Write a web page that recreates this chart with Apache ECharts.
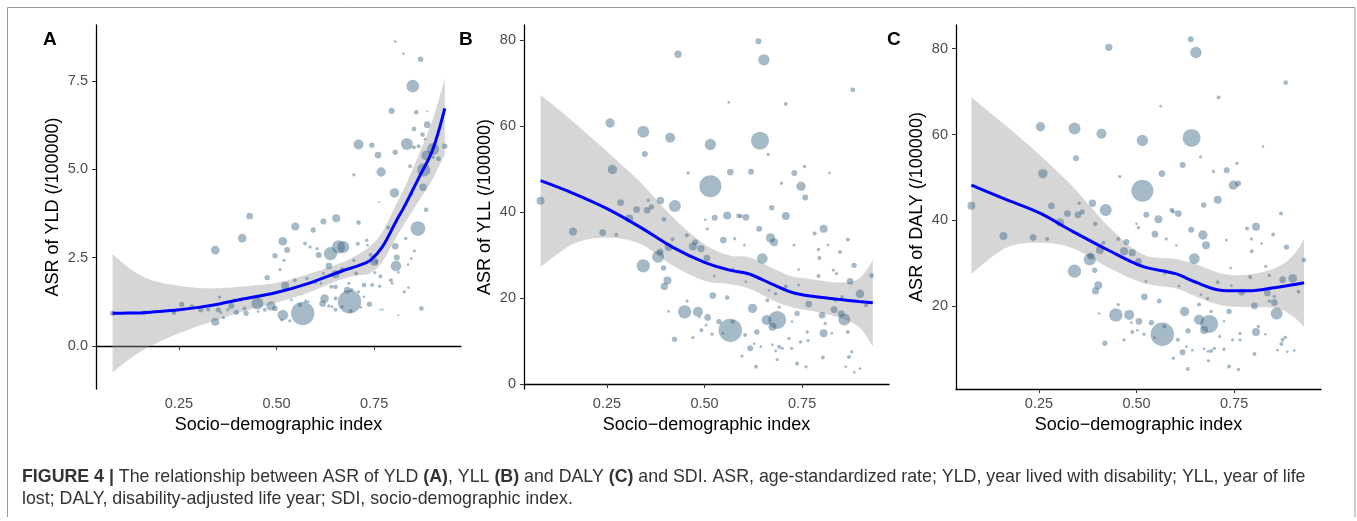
<!DOCTYPE html>
<html><head><meta charset="utf-8">
<script src="https://cdn.jsdelivr.net/npm/echarts@6/dist/echarts.min.js"></script>
<style>html,body{margin:0;padding:0;background:#fff}#c{width:1357px;height:521px}</style>
</head><body><div id="c"></div>
<script>
// ---------- DATA ----------
// each point: [socio-demographic index, age-standardized rate, relative population weight]
const pointsYLD = [
[0.080,0.92,8],[0.161,0.94,7],[0.237,0.94,7],[0.257,1.17,8],[0.283,1.11,7],[0.306,1.02,8],[0.325,1.03,6],[0.343,2.71,13],[0.343,0.68,12],[0.354,1.38,5],
[0.364,0.80,5],[0.351,1.02,8],[0.384,1.13,9],[0.397,0.95,8],[0.412,3.05,13],[0.422,0.92,8],[0.431,3.67,10],[0.451,1.20,18],[0.476,1.93,8],[0.486,1.13,14],
[0.496,2.55,8],[0.516,2.96,13],[0.527,2.71,9],[0.516,0.87,16],[0.522,1.70,12],[0.509,2.16,5],[0.519,2.42,5],[0.548,3.38,12],[0.567,0.92,35],[0.573,2.90,6],
[0.594,3.28,8],[0.608,2.57,9],[0.620,3.52,9],[0.623,1.34,13],[0.618,1.20,10],[0.634,2.26,10],[0.638,2.61,20],[0.653,3.61,12],[0.659,2.80,20],[0.671,2.80,18],
[0.651,2.03,12],[0.687,1.25,35],[0.681,1.58,10],[0.698,4.84,5],[0.710,5.70,15],[0.710,3.49,7],[0.708,2.89,6],[0.731,2.99,5],[0.724,1.72,7],[0.738,1.18,8],
[0.744,5.68,8],[0.750,2.38,12],[0.760,5.40,10],[0.768,4.92,14],[0.763,4.07,3],[0.766,1.97,6],[0.764,1.69,5],[0.786,3.35,6],[0.795,6.65,9],[0.802,4.33,14],
[0.804,5.48,8],[0.804,8.61,4],[0.806,2.26,16],[0.804,2.82,10],[0.808,2.50,9],[0.825,8.27,4],[0.834,5.71,18],[0.849,7.35,19],[0.852,6.14,7],[0.858,6.61,7],
[0.862,3.32,22],[0.869,8.11,8],[0.871,1.06,7],[0.874,5.98,7],[0.875,4.49,11],[0.877,4.98,20],[0.883,3.85,7],[0.886,6.26,10],[0.884,5.39,15],[0.901,5.57,18],
[0.915,5.29,7],[0.931,5.65,8],[0.842,5.08,6],[0.852,5.62,6],[0.831,3.04,5],[0.853,2.69,5],[0.845,2.47,4],[0.837,2.30,4],[0.812,0.87,3],[0.827,1.53,5],
[0.838,1.65,4],[0.793,1.86,6],[0.796,1.77,4],[0.812,2.08,4],[0.766,1.02,3],[0.772,1.03,3],[0.745,1.72,6],[0.752,2.07,5],[0.704,2.05,6],[0.710,1.53,5],
[0.724,1.39,4],[0.698,2.42,5],[0.668,2.16,7],[0.651,1.67,7],[0.640,1.67,6],[0.651,1.34,6],[0.668,1.11,5],[0.690,0.99,6],[0.716,1.09,4],[0.634,1.13,5],
[0.642,1.11,4],[0.575,1.27,5],[0.582,1.25,4],[0.560,1.16,6],[0.538,1.30,4],[0.547,1.86,6],[0.578,1.91,5],[0.599,1.81,6],[0.586,2.80,5],[0.604,2.75,5],
[0.496,1.06,8],[0.470,1.02,6],[0.453,0.97,4],[0.453,1.39,5],[0.418,1.06,6],[0.408,1.30,5],[0.392,1.30,5],[0.375,1.02,5],[0.358,0.94,4],[0.534,0.71,5],
[0.513,0.73,4],[0.741,2.57,6],[0.741,2.42,5],[0.733,2.85,4],[0.756,2.38,6],[0.651,1.02,6],[0.685,1.77,5],[0.692,1.58,6],[0.614,1.77,4],[0.620,2.05,4],
[0.901,5.34,5],[0.880,5.85,4],[0.886,6.64,3],[0.864,5.65,6],[0.845,4.29,6],[0.862,4.70,5]
];
const pointsYLL = [
[0.080,42.6,12],[0.163,35.5,12],[0.239,35.2,10],[0.274,34.7,6],[0.258,60.7,14],[0.264,49.9,14],[0.285,42.2,10],[0.307,38.5,12],[0.326,40.6,10],[0.343,58.7,18],
[0.347,53.5,9],[0.343,27.5,20],[0.353,40.4,10],[0.356,42.7,5],[0.364,41.2,8],[0.381,29.6,18],[0.387,42.7,11],[0.386,30.7,10],[0.395,27.0,8],[0.396,38.3,7],
[0.397,22.7,11],[0.405,24.1,12],[0.408,31.9,12],[0.408,16.9,4],[0.412,57.3,15],[0.424,41.4,18],[0.418,33.7,6],[0.423,10.4,8],[0.432,76.7,11],[0.449,16.8,20],
[0.455,19.3,5],[0.458,49.1,5],[0.455,34.6,6],[0.470,32.0,12],[0.476,33.0,9],[0.483,16.8,15],[0.491,31.5,11],[0.492,12.5,6],[0.470,10.8,5],[0.506,29.3,10],
[0.508,15.5,10],[0.502,38.2,4],[0.507,36.1,5],[0.515,55.7,17],[0.515,46.0,33],[0.526,38.7,9],[0.521,20.6,10],[0.519,11.6,5],[0.525,25.1,4],[0.537,14.5,8],
[0.548,33.5,10],[0.558,39.2,12],[0.558,20.1,7],[0.562,65.5,4],[0.566,49.3,10],[0.566,12.5,35],[0.577,33.8,5],[0.587,39.1,7],[0.593,39.1,6],[0.606,38.8,10],
[0.602,32.3,4],[0.604,11.4,6],[0.596,6.5,5],[0.619,49.4,9],[0.623,17.6,14],[0.617,8.3,9],[0.632,4.0,6],[0.634,12.1,8],[0.638,79.7,9],[0.642,56.6,27],
[0.640,36.1,9],[0.648,29.2,16],[0.652,75.4,17],[0.663,53.4,5],[0.659,14.9,15],[0.669,34.0,14],[0.672,41.0,8],[0.678,33.0,12],[0.686,14.9,27],[0.674,13.3,12],
[0.697,46.7,5],[0.708,39.1,12],[0.708,65.1,6],[0.708,22.7,6],[0.691,8.7,6],[0.686,5.7,5],[0.723,8.3,5],[0.730,49.1,9],[0.729,32.3,4],[0.737,16.4,8],
[0.737,4.8,6],[0.747,46.0,14],[0.756,50.6,5],[0.758,43.4,9],[0.746,9.8,5],[0.760,4.0,5],[0.767,18.6,10],[0.741,26.6,4],[0.741,23.0,4],[0.765,10.1,5],
[0.782,35.0,6],[0.792,31.3,5],[0.794,29.3,6],[0.801,16.0,10],[0.805,11.8,12],[0.805,36.1,12],[0.803,6.2,6],[0.792,25.1,6],[0.809,14.1,5],[0.816,32.3,4],
[0.820,49.1,4],[0.830,26.5,5],[0.832,17.3,10],[0.838,25.7,5],[0.847,30.7,6],[0.850,16.4,10],[0.858,15.0,18],[0.867,33.6,6],[0.867,12.1,6],[0.870,6.3,6],
[0.873,23.9,10],[0.877,7.5,5],[0.880,68.4,7],[0.883,27.6,8],[0.862,4.0,4],[0.884,2.7,4],[0.898,21.0,13],[0.914,18.3,6],[0.928,25.2,7],[0.898,3.6,4],
[0.836,19.5,5],[0.852,20.3,5],[0.826,11.8,4],[0.716,10.6,5],[0.699,8.3,5],[0.682,7.7,4],[0.763,12.1,5],[0.724,14.5,4],[0.674,9.1,4],[0.644,8.7,4],
[0.627,9.4,4],[0.572,14.5,6],[0.547,11.8,4],[0.504,13.7,4],[0.487,15.6,4],[0.572,26.8,4],[0.606,23.8,4],[0.661,19.5,6],[0.665,21.8,4],[0.682,21.0,5],
[0.691,17.9,5]
];
const pointsDALY = [
[0.077,43.4,12],[0.159,36.4,12],[0.235,36.0,10],[0.271,35.7,6],[0.254,61.8,14],[0.260,50.9,14],[0.282,43.4,10],[0.304,39.5,12],[0.323,41.6,10],[0.341,61.4,18],
[0.345,54.5,9],[0.341,28.2,20],[0.350,41.3,10],[0.353,44.0,5],[0.361,42.0,8],[0.380,30.9,18],[0.387,44.0,11],[0.382,31.7,10],[0.393,28.4,8],[0.394,39.2,7],
[0.395,23.6,11],[0.402,24.9,12],[0.406,33.1,12],[0.404,18.3,4],[0.410,60.2,15],[0.421,42.4,18],[0.415,34.8,6],[0.419,11.4,8],[0.429,80.3,11],[0.447,18.0,20],
[0.453,20.4,5],[0.457,50.2,5],[0.453,35.7,6],[0.468,32.8,12],[0.474,35.0,9],[0.481,18.0,15],[0.489,32.5,11],[0.489,14.0,6],[0.468,12.2,5],[0.505,30.5,10],
[0.506,16.5,10],[0.500,39.2,4],[0.505,38.3,5],[0.515,58.6,17],[0.515,46.9,33],[0.525,41.3,9],[0.520,22.2,10],[0.519,13.5,5],[0.524,25.8,4],[0.538,16.2,8],
[0.547,36.8,10],[0.556,40.3,12],[0.558,21.2,7],[0.562,66.6,4],[0.565,50.9,10],[0.566,13.5,35],[0.576,35.7,5],[0.590,42.4,7],[0.594,42.0,6],[0.607,41.6,10],
[0.602,34.2,4],[0.606,12.2,6],[0.594,7.9,5],[0.618,52.9,9],[0.623,18.8,14],[0.618,9.3,9],[0.631,5.4,6],[0.632,14.3,8],[0.639,82.2,9],[0.641,59.2,27],
[0.640,37.8,9],[0.648,31.1,16],[0.652,79.1,17],[0.664,54.8,5],[0.660,16.9,15],[0.670,36.6,14],[0.672,43.6,8],[0.678,34.2,12],[0.686,15.9,27],[0.673,14.5,12],
[0.697,51.4,5],[0.708,44.8,12],[0.710,68.6,6],[0.708,25.6,6],[0.691,9.6,6],[0.684,7.3,5],[0.724,10.0,5],[0.731,51.7,9],[0.730,35.4,4],[0.737,18.8,8],
[0.737,6.0,6],[0.748,48.2,14],[0.757,53.3,5],[0.760,48.6,9],[0.746,12.2,5],[0.761,5.3,5],[0.769,23.3,10],[0.741,28.9,4],[0.743,24.8,4],[0.765,12.2,5],
[0.783,38.1,6],[0.794,35.7,5],[0.795,32.8,6],[0.802,20.1,10],[0.806,14.0,12],[0.806,38.5,12],[0.802,8.9,6],[0.791,26.8,6],[0.812,15.3,5],[0.820,34.6,4],
[0.824,57.2,4],[0.831,29.3,5],[0.835,23.1,10],[0.840,27.2,5],[0.850,36.7,6],[0.853,20.9,10],[0.859,18.3,18],[0.870,41.6,6],[0.871,11.2,6],[0.874,12.2,6],
[0.874,26.2,10],[0.881,12.8,5],[0.882,72.1,7],[0.884,33.8,8],[0.861,9.8,4],[0.886,9.4,4],[0.900,26.5,13],[0.915,23.4,6],[0.929,30.8,7],[0.904,9.7,4],
[0.840,21.2,5],[0.853,22.3,5],[0.830,13.5,4],[0.713,13.0,5],[0.699,10.2,5],[0.683,9.5,4],[0.765,13.7,5],[0.724,16.5,4],[0.673,10.1,4],[0.643,9.8,4],
[0.628,10.6,4],[0.571,15.3,6],[0.546,12.7,4],[0.502,14.4,4],[0.487,16.2,4],[0.572,27.6,4],[0.609,24.7,4],[0.660,20.4,6],[0.665,22.7,4],[0.682,21.8,5],
[0.691,18.8,5]
];

// LOESS fit and 95% confidence band
const smoothSdiYLD = [0.080,0.12,0.16,0.20,0.25,0.30,0.35,0.41,0.50,0.58,0.668,0.71,0.74,0.771,0.805,0.831,0.865,0.899,0.931];
const fitYLD   = [0.92,0.93,0.94,0.97,1.02,1.09,1.18,1.32,1.51,1.76,2.12,2.27,2.42,2.80,3.50,4.02,4.77,5.52,6.72];
const upperYLD = [2.60,2.22,1.95,1.80,1.70,1.64,1.63,1.68,1.79,2.03,2.36,2.60,2.82,3.22,3.97,4.55,5.43,6.37,7.56];
const lowerYLD = [-0.75,-0.40,-0.10,0.12,0.36,0.56,0.74,0.96,1.23,1.50,1.89,2.00,2.05,2.38,3.03,3.52,4.11,4.70,5.43];

const smoothSdiYLL = [0.080,0.165,0.25,0.335,0.419,0.50,0.564,0.614,0.674,0.725,0.776,0.843,0.895,0.931];
const fitYLL   = [47.3,44.3,40.8,36.5,31.8,28.3,26.5,25.6,23.2,21.3,20.4,19.7,19.2,18.9];
const upperYLL = [67.3,60.9,54.1,47.0,38.8,32.5,29.9,29.5,27.0,25.0,24.4,23.6,24.5,28.8];
const lowerYLL = [27.2,32.6,34.0,32.6,27.5,24.0,23.2,22.2,19.5,17.8,17.0,15.5,13.3,8.7];

const smoothSdiDALY = [0.077,0.165,0.25,0.335,0.429,0.515,0.60,0.652,0.72,0.788,0.857,0.90,0.929];
const fitDALY   = [48.2,44.9,41.8,37.5,33.0,29.3,27.6,25.6,23.7,23.6,24.4,25.0,25.5];
const upperDALY = [68.7,62.1,55.4,48.0,38.5,32.1,31.0,29.8,27.6,27.4,29.0,31.7,35.6];
const lowerDALY = [27.6,33.6,34.8,33.6,29.0,25.5,24.2,22.3,20.2,19.8,19.6,17.7,15.3];

const panelLetters = ['A', 'B', 'C'];
const yTitles = ['ASR of YLD (/100000)', 'ASR of YLL (/100000)', 'ASR of DALY (/100000)'];
const xTitle = 'Socio\u2212demographic index';
const xTickValues = [0.25, 0.50, 0.75];
const yTickValuesYLD = [0, 2.5, 5.0, 7.5];
const yTickValuesYLL = [0, 20, 40, 60, 80];
const yTickValuesDALY = [20, 40, 60, 80];
const captionLine1 = '{b|FIGURE 4 |} The relationship between ASR of YLD {b|(A)}, YLL {b|(B)} and DALY {b|(C)} and SDI. ASR, age-standardized rate; YLD, year lived with disability; YLL, year of life';
const captionLine2 = 'lost; DALY, disability-adjusted life year; SDI, socio-demographic index.';

// ---------- CHART ----------
const FONT = '"Liberation Sans", Arial, Helvetica, sans-serif';
const panels = [
  {pts: pointsYLD, sx: smoothSdiYLD, fit: fitYLD, up: upperYLD, lo: lowerYLD, ticks: yTickValuesYLD, min: -1.22, max: 9.08, left: 96, gap: 34, fmt: v => v.toFixed(1)},
  {pts: pointsYLL, sx: smoothSdiYLL, fit: fitYLL, up: upperYLL, lo: lowerYLL, ticks: yTickValuesYLL, min: -1.15, max: 83.5, left: 524, gap: 30, fmt: v => String(v)},
  {pts: pointsDALY, sx: smoothSdiDALY, fit: fitDALY, up: upperDALY, lo: lowerDALY, ticks: yTickValuesDALY, min: 0.75, max: 85.5, left: 956, gap: 30, fmt: v => String(v)}
];

// smooth curve (Catmull-Rom as cubic Bezier) through already-projected pixel points
function curveThrough(pts) {
  let d = '';
  for (let i = 0; i < pts.length - 1; i++) {
    const p0 = pts[i - 1] || pts[i], p1 = pts[i], p2 = pts[i + 1], p3 = pts[i + 2] || pts[i + 1];
    const c1 = [p1[0] + (p2[0] - p0[0]) / 6, p1[1] + (p2[1] - p0[1]) / 6];
    const c2 = [p2[0] - (p3[0] - p1[0]) / 6, p2[1] - (p3[1] - p1[1]) / 6];
    d += ' C' + c1[0] + ' ' + c1[1] + ' ' + c2[0] + ' ' + c2[1] + ' ' + p2[0] + ' ' + p2[1];
  }
  return d;
}

const grids = [], xAxes = [], yAxes = [], series = [];
panels.forEach((p, i) => {
  grids.push({left: p.left, top: 25, width: 365, height: 364});
  const axisLine = {show: true, lineStyle: {color: '#000', width: 1.3}};
  const axisTickBase = {show: true, inside: false, length: 4, lineStyle: {color: '#333', width: 1}};
  xAxes.push({
    gridIndex: i, type: 'value', min: 0.0375, max: 0.9725,
    axisLine, splitLine: {show: false},
    axisTick: Object.assign({customValues: xTickValues}, axisTickBase),
    axisLabel: {customValues: xTickValues, formatter: v => v.toFixed(2), color: '#4d4d4d', fontSize: 14.5, fontFamily: FONT, margin: 7},
    name: xTitle, nameLocation: 'middle', nameGap: 25,
    nameTextStyle: {fontSize: 18, color: '#000', fontFamily: FONT}
  });
  yAxes.push({
    gridIndex: i, type: 'value', min: p.min, max: p.max,
    axisLine, splitLine: {show: false},
    axisTick: Object.assign({customValues: p.ticks}, axisTickBase),
    axisLabel: {customValues: p.ticks, formatter: p.fmt, color: '#4d4d4d', fontSize: 14.5, fontFamily: FONT, margin: 8},
    name: yTitles[i], nameLocation: 'middle', nameGap: p.gap,
    nameTextStyle: {fontSize: 18, color: '#000', fontFamily: FONT}
  });
  series.push({
    type: 'scatter', xAxisIndex: i, yAxisIndex: i, silent: true,
    data: p.pts, symbolSize: d => d[2] * 0.667,
    itemStyle: {color: 'rgba(52,95,128,0.55)', borderWidth: 0}
  });
  // confidence band as one filled shape, projected through the axes
  series.push({
    type: 'custom', xAxisIndex: i, yAxisIndex: i, silent: true,
    data: [[p.sx[0], p.fit[0]]],
    renderItem: (params, api) => {
      const top = p.sx.map((x, k) => api.coord([x, p.up[k]]));
      const bot = p.sx.map((x, k) => api.coord([x, p.lo[k]])).reverse();
      const d = 'M' + top[0][0] + ' ' + top[0][1] + curveThrough(top) +
                ' L' + bot[0][0] + ' ' + bot[0][1] + curveThrough(bot) + ' Z';
      return {type: 'path', shape: {pathData: d}, style: {fill: 'rgba(153,153,153,0.4)', stroke: null}};
    }
  });
  series.push({
    type: 'line', xAxisIndex: i, yAxisIndex: i, silent: true,
    data: p.sx.map((x, k) => [x, p.fit[k]]), symbol: 'none', smooth: 0.35,
    lineStyle: {color: '#0000ff', width: 3}
  });
});

const letterX = [43, 459, 887];
const graphic = [
  {type: 'polyline', shape: {points: [[7.5, 517], [7.5, 7.5], [1355, 7.5], [1355, 517]]}, style: {stroke: '#999', lineWidth: 1, fill: null}, silent: true},
  ...panelLetters.map((t, i) => ({type: 'text', left: letterX[i], top: 30, silent: true,
    style: {text: t, font: 'bold 19px ' + FONT, fill: '#000'}})),
  {type: 'text', left: 22, top: 468, silent: true,
    style: {text: captionLine1, font: '17.8px ' + FONT, fill: '#333', rich: {b: {fontWeight: 'bold', fontSize: 17.8, fontFamily: FONT}}}},
  {type: 'text', left: 22, top: 490, silent: true,
    style: {text: captionLine2, font: '17.8px ' + FONT, fill: '#333'}}
];

const chart = echarts.init(document.getElementById('c'), null, {renderer: 'canvas'});
chart.setOption({
  animation: false,
  backgroundColor: '#fff',
  textStyle: {fontFamily: FONT},
  grid: grids, xAxis: xAxes, yAxis: yAxes, series, graphic
});
</script></body></html>
